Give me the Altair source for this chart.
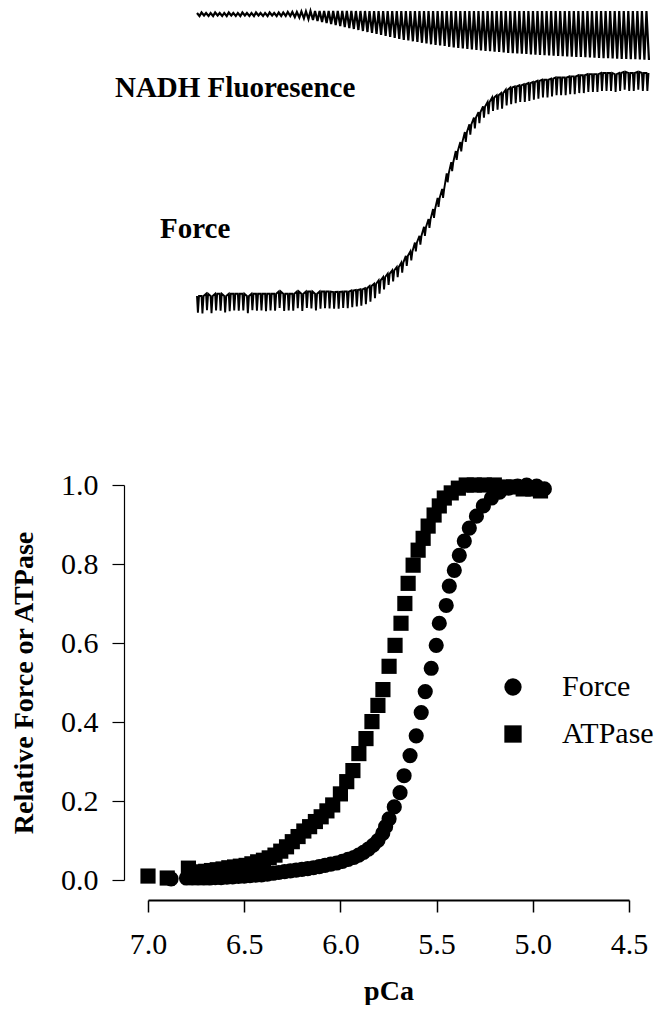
import altair as alt
import pandas as pd

FONT = "Liberation Serif"

# ---------------- steady-state data (bottom panel) ----------------
force_pca = [6.88, 6.80, 6.77, 6.74, 6.71, 6.68, 6.65, 6.62, 6.59, 6.56,
             6.53, 6.50, 6.47, 6.44, 6.41, 6.38, 6.35, 6.32, 6.29, 6.26,
             6.23, 6.20, 6.17, 6.14, 6.11, 6.08, 6.05, 6.02, 5.99, 5.96,
             5.93, 5.905, 5.88, 5.855, 5.83, 5.805, 5.78, 5.765, 5.747, 5.72,
             5.69, 5.669, 5.638, 5.606, 5.58, 5.559, 5.528, 5.502, 5.486, 5.45,
             5.434, 5.408, 5.382, 5.356, 5.33, 5.293, 5.257, 5.215, 5.173, 5.126,
             5.079, 5.032, 4.98, 4.94]
force_rel = [0.003, 0.005, 0.005, 0.005, 0.005, 0.005, 0.006, 0.006, 0.007, 0.008,
             0.009, 0.010, 0.011, 0.012, 0.013, 0.015, 0.017, 0.019, 0.021, 0.023,
             0.025, 0.027, 0.029, 0.031, 0.034, 0.037, 0.040, 0.043, 0.047, 0.052,
             0.057, 0.063, 0.070, 0.078, 0.088, 0.100, 0.118, 0.135, 0.155, 0.185,
             0.221, 0.264, 0.315, 0.365, 0.424, 0.477, 0.536, 0.594, 0.650, 0.695,
             0.744, 0.784, 0.822, 0.858, 0.891, 0.921, 0.947, 0.967, 0.982, 0.992,
             0.997, 1.000, 0.997, 0.990]

atpase_pca = [7.00, 6.90, 6.79, 6.76, 6.73, 6.70, 6.67, 6.64, 6.61, 6.58,
              6.55, 6.52, 6.49, 6.46, 6.43, 6.40, 6.37, 6.34, 6.31, 6.28,
              6.25, 6.22, 6.19, 6.16, 6.13, 6.10, 6.07, 6.04, 6.00, 5.967,
              5.935, 5.904, 5.867, 5.836, 5.805, 5.779, 5.747, 5.716, 5.685, 5.665,
              5.648, 5.622, 5.596, 5.57, 5.544, 5.513, 5.486, 5.46, 5.424, 5.387,
              5.346, 5.304, 5.252, 5.20, 5.15, 5.10, 5.05, 5.00, 4.96]
atpase_rel = [0.010, 0.005, 0.030, 0.020, 0.020, 0.022, 0.024, 0.026, 0.028, 0.031,
              0.033, 0.035, 0.037, 0.041, 0.046, 0.050, 0.056, 0.063, 0.073, 0.084,
              0.097, 0.110, 0.124, 0.135, 0.148, 0.160, 0.175, 0.190, 0.218, 0.249,
              0.277, 0.320, 0.358, 0.401, 0.442, 0.482, 0.541, 0.594, 0.650, 0.700,
              0.751, 0.797, 0.835, 0.865, 0.896, 0.924, 0.947, 0.967, 0.980, 0.992,
              1.000, 1.000, 1.000, 1.000, 0.995, 0.995, 0.990, 0.990, 0.985]

series_names = ["Force", "ATPase"]
x_ticks = [7.0, 6.5, 6.0, 5.5, 5.0, 4.5]
y_ticks = [0.0, 0.2, 0.4, 0.6, 0.8, 1.0]

# ---------------- raw recordings (top panel), one value per cycle ----------------
force_peak = [0.00, 0.00, 0.01, 0.00, 0.01, 0.01, 0.00, 0.01, 0.01, 0.01,
              0.01, 0.00, 0.01, 0.01, 0.01, 0.01, 0.01, 0.01, 0.02, 0.01,
              0.01, 0.01, 0.02, 0.01, 0.02, 0.02, 0.01, 0.02, 0.02, 0.02,
              0.018, 0.019, 0.02, 0.02, 0.025, 0.027, 0.03, 0.035, 0.045, 0.055,
              0.07, 0.085, 0.10, 0.115, 0.13, 0.15, 0.18, 0.20, 0.24, 0.27,
              0.31, 0.345, 0.39, 0.44, 0.48, 0.55, 0.60, 0.65, 0.69, 0.735,
              0.77, 0.80, 0.825, 0.85, 0.87, 0.89, 0.90, 0.91, 0.925, 0.935,
              0.94, 0.945, 0.95, 0.955, 0.96, 0.965, 0.97, 0.97, 0.975, 0.98,
              0.98, 0.98, 0.985, 0.985, 0.99, 0.99, 0.995, 0.995, 0.995, 1.0,
              1.0, 1.0, 0.995, 1.0, 1.005, 1.0, 1.0, 1.005, 1.0, 1.0]
force_dip = [0.075, 0.078, 0.074, 0.077, 0.075, 0.076, 0.074, 0.078, 0.075, 0.076,
             0.075, 0.077, 0.074, 0.076, 0.075, 0.078, 0.075, 0.076, 0.074, 0.077,
             0.075, 0.076, 0.075, 0.077, 0.074, 0.076, 0.075, 0.077, 0.075, 0.076,
             0.075, 0.076, 0.074, 0.075, 0.075, 0.074, 0.073, 0.072, 0.07, 0.065,
             0.06, 0.055, 0.05, 0.05, 0.045, 0.045, 0.045, 0.04, 0.04, 0.04,
             0.04, 0.04, 0.04, 0.04, 0.04, 0.04, 0.04, 0.04, 0.042, 0.044,
             0.046, 0.048, 0.05, 0.05, 0.055, 0.06, 0.065, 0.07, 0.07, 0.075,
             0.075, 0.075, 0.08, 0.08, 0.08, 0.08, 0.08, 0.08, 0.08, 0.08,
             0.08, 0.08, 0.08, 0.08, 0.08, 0.08, 0.08, 0.08, 0.08, 0.08,
             0.08, 0.08, 0.08, 0.08, 0.08, 0.08, 0.08, 0.08, 0.08, 0.08]
nadh_top = [0.98, 0.985, 0.98, 0.98, 0.985, 0.98, 0.98, 0.985, 0.98, 0.98,
            0.985, 0.98, 0.98, 0.985, 0.98, 0.98, 0.985, 0.98, 0.985, 0.985,
            0.99, 0.99, 0.99, 0.995, 0.995, 1.0, 1.0, 1.0, 1.0, 1.0,
            1.0, 1.0, 1.0, 1.0, 1.0, 1.0, 1.0, 1.0, 1.0, 1.0,
            1.0, 1.0, 1.0, 1.0, 1.0, 1.0, 1.0, 1.0, 1.0, 1.0,
            1.0, 1.0, 1.0, 1.0, 1.0, 1.0, 1.0, 1.0, 1.0, 1.0,
            1.0, 1.0, 1.0, 1.0, 1.0, 1.0, 1.0, 1.0, 1.0, 1.0,
            1.0, 1.0, 1.0, 1.0, 1.0, 1.0, 1.0, 1.0, 1.0, 1.0,
            1.0, 1.0, 1.0, 1.0, 1.0, 1.0, 1.0, 1.0, 1.0, 1.0,
            1.0, 1.0, 1.0, 1.0, 1.0, 1.0, 1.0, 1.0, 1.0, 1.0]
nadh_bottom = [0.95, 0.955, 0.95, 0.95, 0.955, 0.95, 0.95, 0.955, 0.95, 0.95,
               0.955, 0.95, 0.95, 0.955, 0.95, 0.95, 0.955, 0.95, 0.95, 0.95,
               0.95, 0.94, 0.935, 0.927, 0.92, 0.91, 0.90, 0.89, 0.88, 0.87,
               0.86, 0.85, 0.84, 0.83, 0.82, 0.81, 0.80, 0.79, 0.78, 0.77,
               0.76, 0.75, 0.74, 0.73, 0.72, 0.712, 0.705, 0.697, 0.69, 0.682,
               0.675, 0.667, 0.66, 0.655, 0.65, 0.642, 0.635, 0.63, 0.625, 0.62,
               0.615, 0.61, 0.605, 0.60, 0.597, 0.593, 0.59, 0.585, 0.58, 0.577,
               0.575, 0.572, 0.57, 0.566, 0.562, 0.56, 0.557, 0.555, 0.552, 0.55,
               0.547, 0.545, 0.543, 0.541, 0.54, 0.537, 0.535, 0.532, 0.53, 0.528,
               0.527, 0.525, 0.523, 0.521, 0.52, 0.518, 0.517, 0.515, 0.513, 0.51]

label_text = ["NADH Fluoresence", "Force"]
label_cycle = [8.4, -0.4]
label_level = [0.933, 0.300]

# ---------------- build tables ----------------
force_rows = []
for i, (p, d) in enumerate(zip(force_peak, force_dip)):
    force_rows += [{"cycle": i, "v": p},
                   {"cycle": i + 0.2, "v": p - d},
                   {"cycle": i + 0.45, "v": p}]
df_force_trace = pd.DataFrame(force_rows)

nadh_rows = []
for i, (t, b) in enumerate(zip(nadh_top, nadh_bottom)):
    nadh_rows += [{"cycle": i, "v": t}, {"cycle": i + 0.55, "v": b}]
df_nadh_trace = pd.DataFrame(nadh_rows)

df_labels = pd.DataFrame({"text": label_text, "cycle": label_cycle, "level": label_level})

df_pts = pd.DataFrame({
    "pCa": force_pca + atpase_pca,
    "rel": force_rel + atpase_rel,
    "series": ["Force"] * len(force_pca) + ["ATPase"] * len(atpase_pca),
})

# ---------------- top panel ----------------
x_trace = alt.X("cycle:Q", scale=alt.Scale(domain=[-10.79, 100], nice=False, zero=False), axis=None)
force_scale = alt.Scale(domain=[-0.0762, 1.278], nice=False, zero=False)
nadh_scale = alt.Scale(domain=[-2.02, 1.0], nice=False, zero=False)

force_line = alt.Chart(df_force_trace).mark_line(color="black", strokeWidth=1.9, clip=False).encode(
    x=x_trace, y=alt.Y("v:Q", scale=force_scale, axis=None))
nadh_line = alt.Chart(df_nadh_trace).mark_line(color="black", strokeWidth=2.2, clip=False).encode(
    x=x_trace, y=alt.Y("v:Q", scale=nadh_scale, axis=None))
labels = alt.Chart(df_labels).mark_text(font=FONT, fontSize=29, fontWeight="bold", align="center",
                                        baseline="middle", color="black").encode(
    x=x_trace, y=alt.Y("level:Q", scale=force_scale, axis=None), text="text:N")

top = alt.layer(force_line, labels, nadh_line).resolve_scale(y="independent").properties(width=503, height=302)

# ---------------- bottom panel ----------------
bottom = alt.Chart(df_pts).mark_point(filled=True, opacity=1, color="black", size=230).encode(
    x=alt.X("pCa:Q",
            scale=alt.Scale(domain=[4.5, 7.0], reverse=True, nice=False, zero=False),
            axis=alt.Axis(values=x_ticks, format=".1f", offset=20, tickSize=12, tickWidth=1.5,
                          domainWidth=2, labelPadding=17, labelFlush=False,
                          title="pCa", titlePadding=18)),
    y=alt.Y("rel:Q",
            scale=alt.Scale(domain=[0, 1], nice=False),
            axis=alt.Axis(values=y_ticks, format=".1f", offset=24, tickSize=12, tickWidth=1.2,
                          domainWidth=1.2, labelPadding=14, labelFlush=False,
                          title="Relative Force or ATPase", titlePadding=22)),
    shape=alt.Shape("series:N", scale=alt.Scale(domain=series_names, range=["circle", "square"]),
                    legend=alt.Legend(title=None, orient="none", legendX=350, legendY=661,
                                      labelFont=FONT, labelFontSize=30, labelColor="black",
                                      symbolSize=300, symbolFillColor="black", symbolStrokeColor="black",
                                      labelOffset=34, rowPadding=17, padding=0)),
).properties(width=481, height=395)

chart = alt.vconcat(top, bottom, spacing=152).properties(
    padding={"left": 10, "top": 6, "right": 0, "bottom": 0},
    background="white",
).configure_view(stroke=None).configure_axis(
    grid=False, domainColor="black", tickColor="black", labelColor="black", titleColor="black",
    labelFont=FONT, labelFontSize=30, titleFont=FONT, titleFontSize=28, titleFontWeight="bold",
)

chart.save("out.html", embed_options={"renderer": "svg", "actions": False})
